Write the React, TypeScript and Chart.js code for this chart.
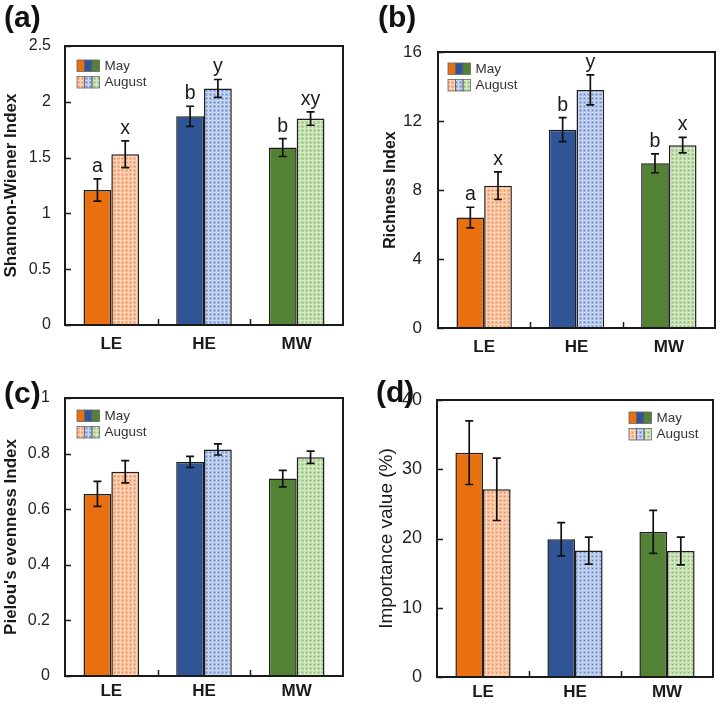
import React, { useEffect, useRef } from 'react';
import { Chart, registerables } from 'chart.js';

Chart.register(...registerables);

const FONT = "'Liberation Sans', Arial, sans-serif";

// ---------- data ----------
const categories = ['LE', 'HE', 'MW'];
const seriesNames = ['May', 'August'];

// (a) Shannon-Wiener
const shannonMay = [1.21, 1.87, 1.59];
const shannonMayErr = [0.1, 0.09, 0.08];
const shannonAug = [1.53, 2.12, 1.85];
const shannonAugErr = [0.12, 0.08, 0.06];
const shannonMayLetters = ['a', 'b', 'b'];
const shannonAugLetters = ['x', 'y', 'xy'];
const shannonTicks = [0, 0.5, 1, 1.5, 2, 2.5];
const shannonTickLabels = ['0', '0.5', '1', '1.5', '2', '2.5'];

// (b) Richness
const richMay = [6.4, 11.5, 9.55];
const richMayErr = [0.6, 0.7, 0.55];
const richAug = [8.25, 13.8, 10.6];
const richAugErr = [0.8, 0.87, 0.45];
const richMayLetters = ['a', 'b', 'b'];
const richAugLetters = ['x', 'y', 'x'];
const richTicks = [0, 4, 8, 12, 16];
const richTickLabels = ['0', '4', '8', '12', '16'];

// (c) Pielou's evenness
const evenMay = [0.655, 0.77, 0.71];
const evenMayErr = [0.045, 0.02, 0.03];
const evenAug = [0.735, 0.815, 0.787];
const evenAugErr = [0.04, 0.02, 0.022];
const evenTicks = [0, 0.2, 0.4, 0.6, 0.8, 1];
const evenTickLabels = ['0', '0.2', '0.4', '0.6', '0.8', '1'];

// (d) Importance value
const ivMay = [32.4, 19.9, 20.95];
const ivMayErr = [4.6, 2.4, 3.1];
const ivAug = [27.1, 18.25, 18.2];
const ivAugErr = [4.5, 1.95, 2.0];
const ivTicks = [0, 10, 20, 30, 40];
const ivTickLabels = ['0', '10', '20', '30', '40'];

// ---------- colours ----------
const mayColors = ['#E8700F', '#2F5597', '#548235'];
const augSpecs = [
  { base: '#F7B68C', line: '#FCD6BD', dot: '#EF8C50' },
  { base: '#A3B9E3', line: '#CAD7F0', dot: '#6283C6' },
  { base: '#B7D7A2', line: '#D6EACA', dot: '#89B66D' },
];

function makePattern(spec: { base: string; line: string; dot: string }): CanvasPattern | string {
  const c = document.createElement('canvas');
  c.width = 4;
  c.height = 4;
  const g = c.getContext('2d');
  if (!g) return spec.base;
  g.fillStyle = spec.base;
  g.fillRect(0, 0, 4, 4);
  g.fillStyle = spec.line;
  g.fillRect(0, 0, 4, 1);
  g.fillRect(0, 0, 1, 4);
  g.fillStyle = spec.dot;
  g.fillRect(2, 2, 1, 1);
  const p = g.createPattern(c, 'repeat');
  return p || spec.base;
}

type PanelCfg = {
  left: number;
  top: number;
  width: number;
  height: number;
  area: { l: number; t: number; r: number; b: number };
  may: number[];
  mayErr: number[];
  aug: number[];
  augErr: number[];
  mayLetters?: string[];
  augLetters?: string[];
  ticks: number[];
  tickLabels: string[];
  yTitle: string;
  titleSize: number;
  titleBold: boolean;
  titleCenter: number;
  tickSize: number;
  tickPad: number;
  xPad: number;
  label: string;
  labelPos: { x: number; y: number };
  legendPos: { x: number; y: number };
};

const decorPlugin = {
  id: 'decor',
  afterDatasetsDraw(chart: any, _args: any, opts: any) {
    const cfg: PanelCfg = opts.cfg;
    const ctx: CanvasRenderingContext2D = chart.ctx;
    const { left, right, top, bottom } = chart.chartArea;
    const ys = chart.scales.y;
    const xs = chart.scales.x;
    ctx.save();
    // error bars + letters
    const errs = [cfg.mayErr, cfg.augErr];
    const letters = [cfg.mayLetters, cfg.augLetters];
    errs.forEach((err, i) => {
      const meta = chart.getDatasetMeta(i);
      const vals = chart.data.datasets[i].data as number[];
      meta.data.forEach((bar: any, j: number) => {
        const v = vals[j];
        const e = err[j];
        const yt = ys.getPixelForValue(v + e);
        const yb = ys.getPixelForValue(v - e);
        const bx = bar.x;
        ctx.strokeStyle = '#111';
        ctx.lineWidth = 1.7;
        ctx.beginPath();
        ctx.moveTo(bx, yt);
        ctx.lineTo(bx, yb);
        ctx.moveTo(bx - 4, yt);
        ctx.lineTo(bx + 4, yt);
        ctx.moveTo(bx - 4, yb);
        ctx.lineTo(bx + 4, yb);
        ctx.stroke();
        const ls = letters[i];
        if (ls && ls[j]) {
          ctx.fillStyle = '#1a1a1a';
          ctx.font = `19.5px ${FONT}`;
          ctx.textAlign = 'center';
          ctx.textBaseline = 'alphabetic';
          ctx.fillText(ls[j], bx, yt - 7);
        }
      });
    });
    // frame
    ctx.strokeStyle = '#1a1a1a';
    ctx.lineWidth = 2;
    ctx.strokeRect(left, top, right - left, bottom - top);
    // inward y ticks
    ctx.lineWidth = 1.5;
    ctx.beginPath();
    cfg.ticks.forEach((v) => {
      const py = Math.round(ys.getPixelForValue(v)) + 0.5;
      ctx.moveTo(left, py);
      ctx.lineTo(left + 6, py);
    });
    // inward x ticks between categories
    for (let k = 1; k < categories.length; k++) {
      const px = Math.round((xs.getPixelForValue(k - 1) + xs.getPixelForValue(k)) / 2) + 0.5;
      ctx.moveTo(px, bottom);
      ctx.lineTo(px, bottom - 6);
    }
    ctx.stroke();
    // legend
    const lx = cfg.legendPos.x;
    const ly = cfg.legendPos.y;
    const sw = 7.5;
    const sh = 11.5;
    const fills = [mayColors, opts.augFills];
    seriesNames.forEach((name, r) => {
      const yy = ly + r * 16.5;
      for (let k = 0; k < 3; k++) {
        ctx.fillStyle = fills[r][k];
        ctx.fillRect(lx + k * sw, yy, sw, sh);
      }
      ctx.strokeStyle = '#666';
      ctx.lineWidth = 0.8;
      for (let k = 0; k < 3; k++) ctx.strokeRect(lx + k * sw, yy, sw, sh);
      ctx.fillStyle = '#333';
      ctx.font = `13.5px ${FONT}`;
      ctx.textAlign = 'left';
      ctx.textBaseline = 'middle';
      ctx.fillText(name, lx + 3 * sw + 5, yy + sh / 2 + 0.5);
    });
    // panel label
    ctx.fillStyle = '#111';
    ctx.font = `bold 30px ${FONT}`;
    ctx.textAlign = 'left';
    ctx.textBaseline = 'alphabetic';
    ctx.fillText(cfg.label, cfg.labelPos.x, cfg.labelPos.y);
    ctx.restore();
  },
};

function Panel({ cfg }: { cfg: PanelCfg }) {
  const ref = useRef<HTMLCanvasElement | null>(null);
  useEffect(() => {
    if (!ref.current) return;
    const augFills = augSpecs.map(makePattern);
    const titleLH = cfg.titleSize * 1.2;
    const chart = new Chart(ref.current, {
      type: 'bar',
      data: {
        labels: categories,
        datasets: [
          {
            label: seriesNames[0],
            data: cfg.may,
            backgroundColor: mayColors,
            borderColor: '#1e1e1e',
            borderWidth: 1.5,
            barPercentage: 1,
            categoryPercentage: 0.6,
          },
          {
            label: seriesNames[1],
            data: cfg.aug,
            backgroundColor: augFills as any,
            borderColor: '#1e1e1e',
            borderWidth: 1.5,
            barPercentage: 1,
            categoryPercentage: 0.6,
          },
        ],
      },
      options: {
        responsive: false,
        animation: false,
        layout: {
          padding: { left: 0, top: cfg.area.t, right: cfg.width - cfg.area.r, bottom: 0 },
        },
        plugins: {
          legend: { display: false },
          tooltip: { enabled: false },
          decor: { cfg, augFills },
        } as any,
        scales: {
          x: {
            grid: { display: false, drawTicks: false },
            border: { display: false },
            ticks: {
              font: { family: FONT, size: 17, weight: 'bold' },
              color: '#1a1a1a',
              padding: cfg.xPad,
            },
            afterFit: (s: any) => {
              s.height = cfg.height - cfg.area.b;
            },
          },
          y: {
            min: cfg.ticks[0],
            max: cfg.ticks[cfg.ticks.length - 1],
            grid: { display: false, drawTicks: false },
            border: { display: false },
            afterBuildTicks: (s: any) => {
              s.ticks = cfg.ticks.map((v) => ({ value: v }));
            },
            ticks: {
              font: { family: FONT, size: cfg.tickSize },
              color: '#222',
              padding: cfg.tickPad,
              callback: (v: any) => {
                const idx = cfg.ticks.findIndex((t) => Math.abs(t - Number(v)) < 1e-9);
                return idx >= 0 ? cfg.tickLabels[idx] : '';
              },
            },
            title: {
              display: true,
              text: cfg.yTitle,
              color: '#1a1a1a',
              font: { family: FONT, size: cfg.titleSize, weight: cfg.titleBold ? 'bold' : 'normal' },
              padding: { top: Math.max(0, cfg.titleCenter - titleLH / 2), bottom: 0 },
            },
            afterFit: (s: any) => {
              s.width = cfg.area.l;
            },
          },
        },
      } as any,
      plugins: [decorPlugin],
    });
    return () => chart.destroy();
  }, [cfg]);
  return (
    <canvas
      ref={ref}
      width={cfg.width}
      height={cfg.height}
      style={{ position: 'absolute', left: cfg.left, top: cfg.top, width: cfg.width, height: cfg.height }}
    />
  );
}

const panels: PanelCfg[] = [
  {
    left: 0, top: 0, width: 362, height: 362,
    area: { l: 65, t: 46, r: 343, b: 325 },
    may: shannonMay, mayErr: shannonMayErr, aug: shannonAug, augErr: shannonAugErr,
    mayLetters: shannonMayLetters, augLetters: shannonAugLetters,
    ticks: shannonTicks, tickLabels: shannonTickLabels,
    yTitle: 'Shannon-Wiener Index', titleSize: 17, titleBold: true, titleCenter: 11,
    tickSize: 16, tickPad: 14, xPad: 9,
    label: '(a)', labelPos: { x: 4, y: 27 },
    legendPos: { x: 77, y: 60 },
  },
  {
    left: 362, top: 0, width: 362, height: 362,
    area: { l: 76, t: 52, r: 353, b: 328 },
    may: richMay, mayErr: richMayErr, aug: richAug, augErr: richAugErr,
    mayLetters: richMayLetters, augLetters: richAugLetters,
    ticks: richTicks, tickLabels: richTickLabels,
    yTitle: 'Richness Index', titleSize: 16, titleBold: true, titleCenter: 28.5,
    tickSize: 17, tickPad: 16, xPad: 9,
    label: '(b)', labelPos: { x: 16, y: 27 },
    legendPos: { x: 86, y: 63 },
  },
  {
    left: 0, top: 362, width: 362, height: 343,
    area: { l: 65, t: 36, r: 343, b: 314 },
    may: evenMay, mayErr: evenMayErr, aug: evenAug, augErr: evenAugErr,
    ticks: evenTicks, tickLabels: evenTickLabels,
    yTitle: "Pielou's evenness Index", titleSize: 17, titleBold: true, titleCenter: 11,
    tickSize: 16, tickPad: 15, xPad: 5,
    label: '(c)', labelPos: { x: 4, y: 41 },
    legendPos: { x: 77, y: 48 },
  },
  {
    left: 362, top: 362, width: 362, height: 343,
    area: { l: 75, t: 38, r: 351, b: 315 },
    may: ivMay, mayErr: ivMayErr, aug: ivAug, augErr: ivAugErr,
    ticks: ivTicks, tickLabels: ivTickLabels,
    yTitle: 'Importance value (%)', titleSize: 19, titleBold: false, titleCenter: 25,
    tickSize: 18, tickPad: 15, xPad: 5,
    label: '(d)', labelPos: { x: 14, y: 40 },
    legendPos: { x: 267, y: 50 },
  },
];

export default function App() {
  return (
    <div style={{ position: 'absolute', left: 0, top: 0, width: 724, height: 705, background: '#fff' }}>
      {panels.map((p) => (
        <Panel key={p.label} cfg={p} />
      ))}
    </div>
  );
}
